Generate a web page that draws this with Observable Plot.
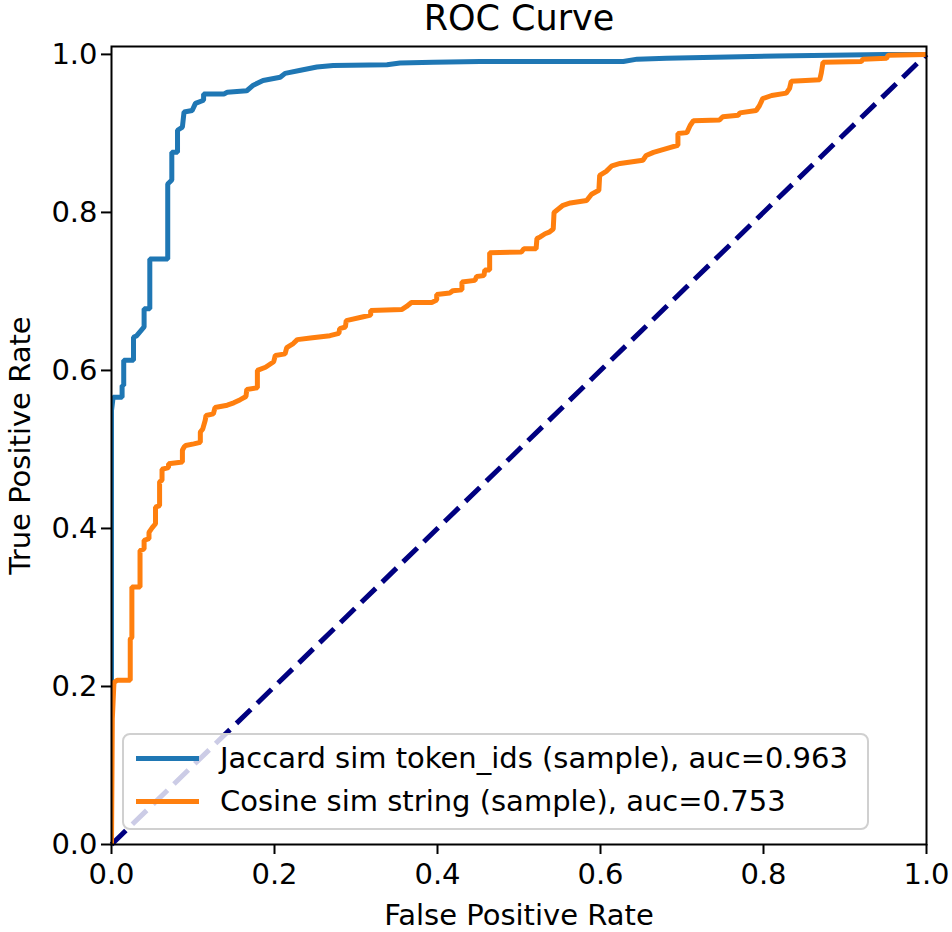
<!DOCTYPE html>
<html>
<head>
<meta charset="utf-8">
<script src="https://cdn.jsdelivr.net/npm/d3@7"></script>
<script src="https://cdn.jsdelivr.net/npm/@observablehq/plot@0.6"></script>
<style>
  html, body { margin: 0; padding: 0; background: white; }
  #wrap { position: relative; width: 952px; height: 932px; font-family: "DejaVu Sans", sans-serif; }
  #legend { position: absolute; left: 122px; top: 733px; width: 747px; height: 97px; box-sizing: border-box;
    background: rgba(255,255,255,0.8); border: 2px solid #d0d0d0; border-radius: 8px; font-size: 29px; color: #000; }
  .row { position: absolute; left: 0; height: 40px; display: flex; align-items: center; white-space: nowrap; }
  .swatch { display: inline-block; width: 63px; height: 5px; margin-left: 12px; margin-right: 21px; }
</style>
</head>
<body>
<div id="wrap"></div>
<script>
// ---- data ----
const seriesNames = ["Jaccard sim token_ids (sample), auc=0.963", "Cosine sim string (sample), auc=0.753"];
const seriesColors = ["#1f77b4", "#ff7f0e"];

const fprJaccard = [0, 0, 0.002, 0.013, 0.013, 0.015, 0.015, 0.027, 0.027, 0.031, 0.040, 0.040, 0.047, 0.047, 0.069, 0.069, 0.074, 0.074, 0.081, 0.081, 0.087, 0.089, 0.099, 0.103, 0.113, 0.113, 0.138, 0.142, 0.166, 0.174, 0.186, 0.207, 0.213, 0.232, 0.252, 0.272, 0.338, 0.354, 0.395, 0.452, 0.628, 0.645, 0.681, 0.816, 0.949, 1.0];
const tprJaccard = [0, 0.549, 0.566, 0.566, 0.581, 0.581, 0.613, 0.613, 0.642, 0.644, 0.655, 0.678, 0.678, 0.741, 0.741, 0.836, 0.841, 0.876, 0.876, 0.904, 0.908, 0.927, 0.929, 0.938, 0.942, 0.950, 0.950, 0.952, 0.954, 0.961, 0.967, 0.971, 0.976, 0.980, 0.984, 0.986, 0.987, 0.989, 0.990, 0.991, 0.991, 0.994, 0.995, 0.998, 1.0, 1.0];

const fprCosine = [0, 0.001, 0.003, 0.007, 0.023, 0.023, 0.025, 0.025, 0.035, 0.035, 0.040, 0.040, 0.046, 0.046, 0.050, 0.054, 0.054, 0.059, 0.059, 0.062, 0.062, 0.070, 0.070, 0.087, 0.087, 0.089, 0.091, 0.101, 0.109, 0.109, 0.112, 0.115, 0.116, 0.125, 0.127, 0.142, 0.150, 0.158, 0.165, 0.166, 0.179, 0.179, 0.189, 0.199, 0.201, 0.213, 0.215, 0.223, 0.228, 0.244, 0.268, 0.279, 0.280, 0.287, 0.288, 0.309, 0.318, 0.318, 0.356, 0.362, 0.368, 0.393, 0.399, 0.399, 0.415, 0.419, 0.430, 0.430, 0.446, 0.448, 0.457, 0.458, 0.464, 0.464, 0.503, 0.506, 0.521, 0.522, 0.526, 0.532, 0.537, 0.542, 0.543, 0.554, 0.563, 0.583, 0.589, 0.598, 0.599, 0.607, 0.614, 0.624, 0.652, 0.656, 0.665, 0.685, 0.695, 0.695, 0.706, 0.710, 0.714, 0.746, 0.750, 0.769, 0.771, 0.791, 0.795, 0.799, 0.810, 0.828, 0.832, 0.834, 0.869, 0.871, 0.873, 0.920, 0.922, 0.951, 0.953, 1.0];
const tprCosine = [0, 0.159, 0.205, 0.208, 0.208, 0.260, 0.262, 0.326, 0.326, 0.372, 0.374, 0.385, 0.387, 0.395, 0.401, 0.406, 0.427, 0.429, 0.459, 0.461, 0.475, 0.477, 0.482, 0.484, 0.499, 0.503, 0.505, 0.507, 0.509, 0.522, 0.526, 0.537, 0.543, 0.545, 0.553, 0.556, 0.559, 0.563, 0.567, 0.576, 0.578, 0.600, 0.604, 0.611, 0.619, 0.621, 0.629, 0.634, 0.639, 0.641, 0.644, 0.647, 0.653, 0.655, 0.663, 0.668, 0.670, 0.676, 0.677, 0.681, 0.686, 0.686, 0.689, 0.696, 0.698, 0.701, 0.702, 0.712, 0.714, 0.719, 0.720, 0.727, 0.727, 0.749, 0.750, 0.754, 0.754, 0.767, 0.769, 0.773, 0.775, 0.779, 0.800, 0.809, 0.812, 0.815, 0.823, 0.828, 0.847, 0.852, 0.859, 0.862, 0.866, 0.872, 0.876, 0.882, 0.885, 0.900, 0.901, 0.910, 0.916, 0.917, 0.921, 0.923, 0.926, 0.929, 0.935, 0.944, 0.948, 0.951, 0.957, 0.966, 0.968, 0.977, 0.990, 0.991, 0.994, 0.995, 0.999, 1.0];

const diagX = [0, 1];
const diagY = [0, 1];
const xTicks = [0, 0.2, 0.4, 0.6, 0.8, 1.0];
const yTicks = [0, 0.2, 0.4, 0.6, 0.8, 1.0];
const titleText = "ROC Curve";
const xLabel = "False Positive Rate";
const yLabel = "True Positive Rate";

// ---- build tables ----
const jac = fprJaccard.map((x, i) => ({x, y: tprJaccard[i]}));
const cos = fprCosine.map((x, i) => ({x, y: tprCosine[i]}));
const diag = diagX.map((x, i) => ({x, y: diagY[i]}));

const font = "DejaVu Sans";
const chart = Plot.plot({
  width: 952,
  height: 932,
  marginLeft: 111,
  marginRight: 26,
  marginTop: 46,
  marginBottom: 88,
  x: {domain: [0, 1]},
  y: {domain: [0, 1.01]},
  style: {fontFamily: font, fontSize: "29px", background: "white", color: "black", overflow: "visible"},
  marks: [
    Plot.line(diag, {x: "x", y: "y", stroke: "#000080", strokeWidth: 5, strokeDasharray: "20,9", strokeLinecap: "butt"}),
    Plot.line(jac, {x: "x", y: "y", stroke: seriesColors[0], strokeWidth: 5, clip: true, strokeLinejoin: "miter", strokeLinecap: "square"}),
    Plot.line(cos, {x: "x", y: "y", stroke: seriesColors[1], strokeWidth: 5, clip: true, strokeLinejoin: "miter", strokeLinecap: "square"}),
    Plot.frame({stroke: "black", strokeWidth: 2}),
    Plot.axisX({ticks: xTicks, tickFormat: d3.format(".1f"), tickSize: 10, tickPadding: 9, strokeWidth: 2, label: null, fontSize: 29}),
    Plot.axisY({ticks: yTicks, tickFormat: d3.format(".1f"), tickSize: 10, tickPadding: 4, strokeWidth: 2, label: null, fontSize: 29}),
    Plot.text([titleText], {frameAnchor: "top", dy: -41, fontSize: 35, textAnchor: "middle", text: d => d}),
    Plot.text([xLabel], {frameAnchor: "bottom", dy: 80, fontSize: 29, textAnchor: "middle", text: d => d}),
    Plot.text([yLabel], {frameAnchor: "left", dx: -91, rotate: -90, fontSize: 29, textAnchor: "middle", text: d => d})
  ]
});

const wrap = document.getElementById("wrap");
wrap.appendChild(chart);

// legend
const legend = document.createElement("div");
legend.id = "legend";
seriesNames.forEach((name, i) => {
  const row = document.createElement("div");
  row.className = "row";
  row.style.top = (i === 0 ? 3 : 46) + "px";
  const sw = document.createElement("span");
  sw.className = "swatch";
  sw.style.background = seriesColors[i];
  const tx = document.createElement("span");
  tx.textContent = name;
  row.appendChild(sw);
  row.appendChild(tx);
  legend.appendChild(row);
});
wrap.appendChild(legend);
</script>
</body>
</html>
